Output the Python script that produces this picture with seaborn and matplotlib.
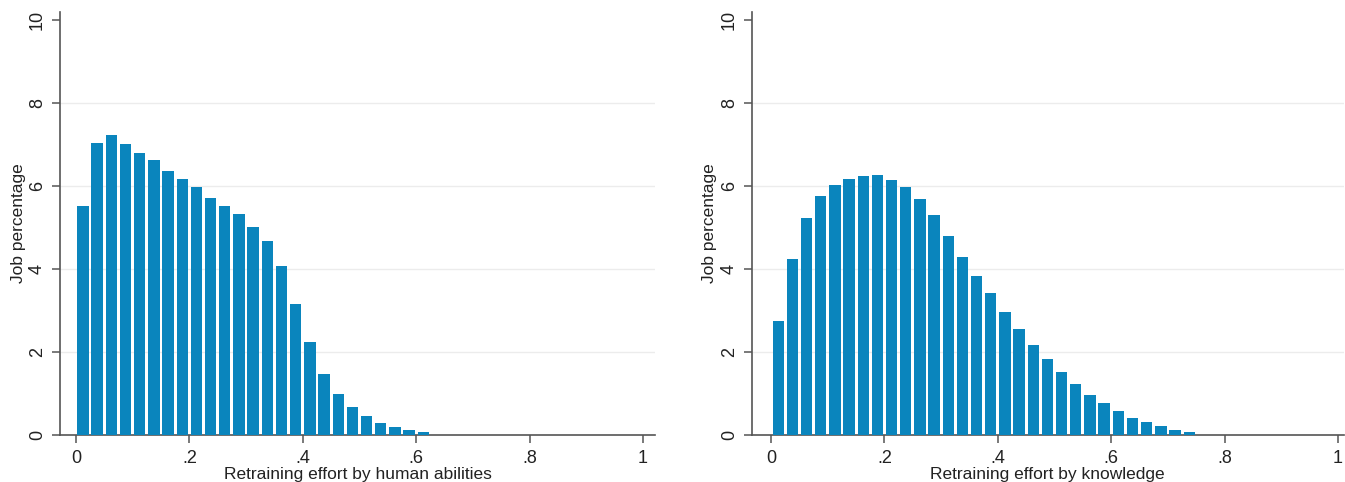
import numpy as np
import pandas as pd
import matplotlib
matplotlib.use("Agg")
import matplotlib.pyplot as plt
import seaborn as sns

# Job percentage per bin of retraining effort (bin width .025)
human_pct = [5.51, 7.05, 7.24, 7.02, 6.81, 6.63, 6.37, 6.16, 5.97, 5.72,
             5.53, 5.33, 5.01, 4.68, 4.07, 3.15, 2.25, 1.47, 0.98, 0.66,
             0.45, 0.29, 0.19, 0.12, 0.06]
knowledge_pct = [2.75, 4.24, 5.22, 5.75, 6.02, 6.17, 6.25, 6.28, 6.15, 5.97,
                 5.68, 5.31, 4.79, 4.29, 3.83, 3.43, 2.96, 2.54, 2.17, 1.83,
                 1.51, 1.22, 0.97, 0.76, 0.58, 0.41, 0.30, 0.20, 0.12, 0.07]
binwidth = 0.025

xticks = [0, 0.2, 0.4, 0.6, 0.8, 1]
xticklabels = ["0", ".2", ".4", ".6", ".8", "1"]
yticks = [0, 2, 4, 6, 8, 10]
xlabels = ["Retraining effort by human abilities", "Retraining effort by knowledge"]

sns.set_style("white")
plt.rcParams["font.family"] = ["Liberation Sans", "DejaVu Sans"]

bar_color = "#0a85bd"
axis_color = "#555555"

fig = plt.figure(figsize=(13.45, 4.82), dpi=100)
fig.patch.set_facecolor("white")
ax1 = fig.add_axes([0.0446, 0.098, 0.4424, 0.877])
ax2 = fig.add_axes([0.559, 0.098, 0.4400, 0.877])

panels = [(ax1, human_pct, xlabels[0], (-0.028, 1.021)),
          (ax2, knowledge_pct, xlabels[1], (-0.034, 1.010))]

for ax, pct, xlab, xlim in panels:
    n = len(pct)
    df = pd.DataFrame({"effort": np.arange(n) * binwidth + binwidth / 2, "pct": pct})
    sns.histplot(data=df, x="effort", weights="pct", binwidth=binwidth,
                 binrange=(0, n * binwidth), shrink=0.8,
                 color=bar_color, alpha=1, linewidth=0, ax=ax, zorder=3)
    ax.set_xlim(*xlim)
    ax.set_ylim(0, 10.2)
    ax.set_yticks(yticks)
    ax.set_yticklabels([str(t) for t in yticks], rotation=90, va="center")
    ax.set_xticks(xticks)
    ax.set_xticklabels(xticklabels)
    for y in [2, 4, 6, 8]:
        ax.axhline(y, color="#ececec", lw=1, zorder=1)
    ax.tick_params(axis="both", which="major", bottom=True, left=True,
                   direction="out", length=6, width=1.1,
                   color=axis_color, labelsize=13, labelcolor="#222222", pad=4)
    ax.tick_params(axis="x", pad=5)
    ax.set_xlabel(xlab, fontsize=12.5, color="#222222", labelpad=0)
    ax.set_ylabel("Job percentage", fontsize=12.5, color="#222222", labelpad=2.5)
    sns.despine(ax=ax)
    for s in ["left", "bottom"]:
        ax.spines[s].set_color(axis_color)
        ax.spines[s].set_linewidth(1.2)
    ax.set_facecolor("white")

fig.savefig("out.png", dpi=100)
